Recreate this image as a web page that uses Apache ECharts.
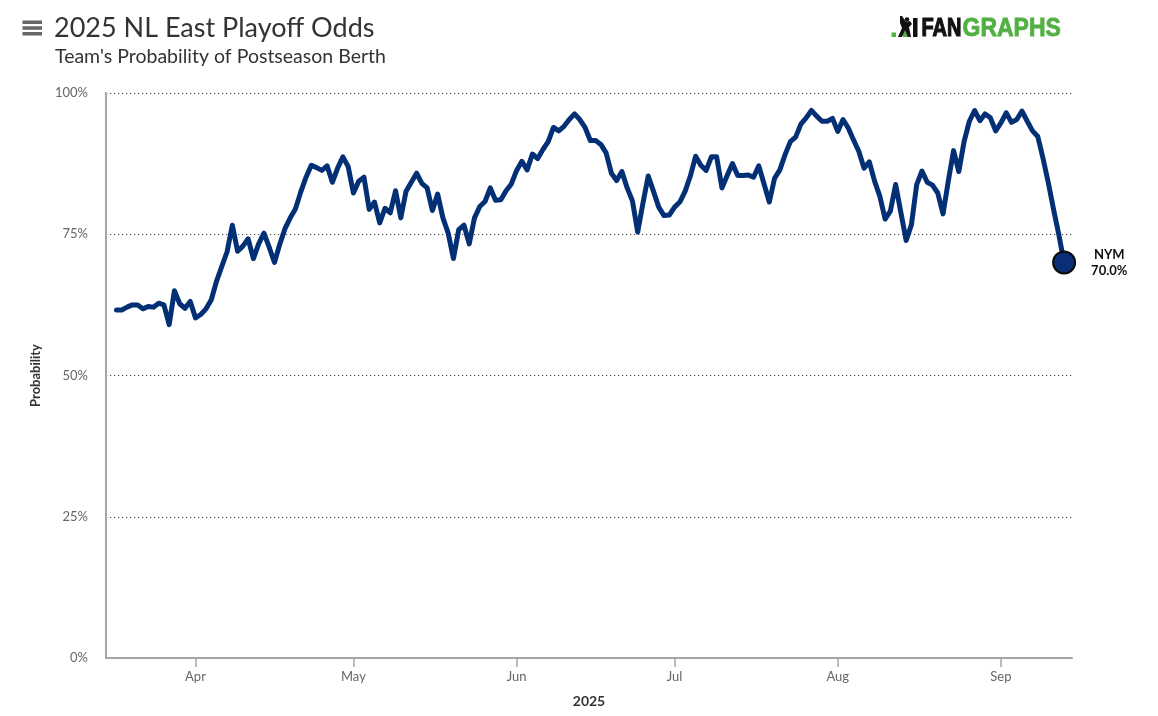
<!DOCTYPE html>
<html>
<head>
<meta charset="utf-8">
<script src="https://cdn.jsdelivr.net/npm/echarts@6/dist/echarts.min.js"></script>
<style>
  html, body { margin: 0; padding: 0; background: #fff; }
  #chart { width: 1158px; height: 716px; }
</style>
</head>
<body>
<div id="chart"></div>
<script>
// ---- Data ----
const teamName = 'NYM';
const startDate = [2025, 2, 17]; // Mar 17, 2025 (one value per day)
// Playoff probability (%) per day, Mar 17 .. Sep 13 (null = no visible point)
const odds = [
  61.6, 61.6, 62.1, 62.5, 62.5, 61.8, 62.2, 62.1, 62.8, 62.5,
  59.0, 65.0, 62.7, 61.9, 63.1, 60.2, 60.8, 61.8, 63.4, 66.7,
  69.3, 71.9, 76.6, 72.0, 72.9, 74.2, 70.7, 73.3, 75.2, 72.7,
  70.0, 73.2, 76.0, 77.9, 79.5, 82.5, 85.1, 87.2, 86.8, 86.3,
  87.1, 84.2, 86.7, 88.7, 87.0, 82.3, 84.4, 85.1, 79.4, 80.7,
  77.0, 79.6, 78.8, 82.7, 77.9, 82.6, null, 85.8, 84.0, 83.2,
  79.2, 82.1, 77.9, 75.2, 70.7, 75.8, 76.6, 73.3, 77.9, 79.9,
  80.8, 83.2, 81.0, 81.1, 82.7, 83.9, 86.3, 87.9, 86.4, 89.2,
  88.4, 90.0, 91.4, 93.9, 93.3, 94.1, 95.3, 96.3, 95.3, 93.9,
  91.6, 91.6, 90.9, 89.4, 85.8, 84.5, 86.1, 83.2, 80.9, 75.4,
  80.5, 85.3, 82.6, 79.8, 78.3, 78.4, 79.8, 80.7, 82.6, 85.3,
  88.8, 87.2, 86.3, 88.7, 88.7, 83.2, 85.4, 87.5, 85.4, 85.4,
  85.5, 85.1, 87.1, 83.9, 80.7, 84.9, 86.4, 89.1, 91.4, 92.2,
  94.5, 95.6, 96.9, 95.9, 95.0, 95.0, 95.5, 93.2, 95.3, 93.8,
  91.7, 89.7, 86.7, 87.8, 84.4, 81.7, 77.7, 79.1, 83.8, 78.8,
  73.9, 76.7, 83.8, 86.2, 84.2, 83.7, 82.3, 78.6, 84.4, 89.8,
  86.1, 91.4, 95.0, 96.9, 95.1, 96.3, 95.6, 93.3, 94.7, 96.5,
  94.8, 95.3, 96.8, 95.0, 93.3, 92.3, 88.4, 84.1, 79.4, 74.9,
  70.0
];
const monthTickDates = [[2025,3,1],[2025,4,1],[2025,5,1],[2025,6,1],[2025,7,1],[2025,8,1]];
const monthTickLabels = ['Apr', 'May', 'Jun', 'Jul', 'Aug', 'Sep'];
const yTicks = [0, 25, 50, 75, 100];

// ---- Build ----
const t = (y, m, d, h) => new Date(y, m, d, h || 0).getTime();
const seriesData = odds.map((v, i) => [t(startDate[0], startDate[1], startDate[2] + i), v]);
const last = seriesData[seriesData.length - 1];
const monthTicks = monthTickDates.map(d => t(d[0], d[1], d[2]));
const labelFor = v => { const i = monthTicks.indexOf(v); return i >= 0 ? monthTickLabels[i] : ''; };

const FONT = 'Lato, "Open Sans", sans-serif';
const LOGO_FONT = '"Liberation Sans", Arial, sans-serif';
const chart = echarts.init(document.getElementById('chart'), null, { renderer: 'canvas' });

chart.setOption({
  animation: false,
  backgroundColor: '#ffffff',
  textStyle: { fontFamily: FONT },
  grid: { left: 106, right: 86, top: 93, bottom: 58, outerBoundsMode: 'none' },
  graphic: [
    { type: 'rect', shape: { x: 22.5, y: 20.5, width: 19.5, height: 3.5 }, style: { fill: '#666' } },
    { type: 'rect', shape: { x: 22.5, y: 26.3, width: 19.5, height: 3.5 }, style: { fill: '#666' } },
    { type: 'rect', shape: { x: 22.5, y: 32.0, width: 19.5, height: 3.5 }, style: { fill: '#666' } },
    { type: 'text', left: 54, top: 15, style: { text: '2025 NL East Playoff Odds', fill: '#333', fontSize: 27, fontFamily: FONT } },
    { type: 'text', left: 55, top: 47, style: { text: "Team's Probability of Postseason Berth", fill: '#333', fontSize: 19.5, fontFamily: FONT } },
    // FanGraphs logo
    { type: 'rect', shape: { x: 891.5, y: 32.5, width: 4.5, height: 4.5 }, style: { fill: '#52b043' } },
    { type: 'rect', shape: { x: 903, y: 25, width: 5, height: 12 }, style: { fill: '#52b043' } },
    { type: 'polygon', shape: { points: [[900,16],[902,16],[906,22],[910,21],[912,24],[909,27],[911,37],[908,37],[905,30],[902,37],[898,37],[902,28],[900,23]] }, style: { fill: '#111' } },
    { type: 'circle', shape: { cx: 907, cy: 19.5, r: 2.3 }, style: { fill: '#111' } },
    { type: 'rect', shape: { x: 913, y: 18, width: 4.5, height: 19 }, style: { fill: '#111' } },
    { type: 'text', x: 921.5, y: 29.5, scaleX: 0.8, style: { text: 'FAN', fill: '#111', stroke: '#111', lineWidth: 1.2, fontSize: 25, fontWeight: 'bold', fontFamily: LOGO_FONT, textVerticalAlign: 'middle' } },
    { type: 'text', x: 962.5, y: 29.5, scaleX: 0.92, style: { text: 'GRAPHS', fill: '#52b043', stroke: '#52b043', lineWidth: 0.8, fontSize: 25, fontWeight: 'bold', fontFamily: LOGO_FONT, textVerticalAlign: 'middle' } }
  ],
  xAxis: {
    type: 'value',
    min: t(2025, 2, 15),
    max: t(2025, 8, 14, 12),
    name: '2025',
    nameLocation: 'middle',
    nameGap: 36,
    nameTextStyle: { fontWeight: 'bold', fontSize: 14, color: '#333', fontFamily: FONT },
    axisLine: { show: true, lineStyle: { color: '#a6a6a6', width: 2 } },
    axisTick: { show: true, customValues: monthTicks, length: 9, lineStyle: { color: '#a6a6a6', width: 1.5 } },
    axisLabel: { customValues: monthTicks, formatter: labelFor, color: '#666', fontSize: 13, margin: 12, fontFamily: FONT },
    splitLine: { show: false }
  },
  yAxis: {
    type: 'value',
    min: yTicks[0],
    max: yTicks[yTicks.length - 1],
    interval: 25,
    name: 'Probability',
    nameLocation: 'middle',
    nameGap: 64,
    nameRotate: 90,
    nameTextStyle: { fontWeight: 'bold', fontSize: 13, color: '#333', fontFamily: FONT },
    axisLine: { show: true, lineStyle: { color: '#a6a6a6', width: 2 } },
    axisTick: { show: false },
    axisLabel: { formatter: '{value}%', color: '#666', fontSize: 13, margin: 18, fontFamily: FONT },
    splitLine: { show: true, lineStyle: { color: '#444', width: 1, type: [1.2, 2.8] } }
  },
  series: [
    {
      type: 'line',
      data: seriesData,
      showSymbol: false,
      connectNulls: true,
      silent: true,
      z: 3,
      lineStyle: { color: '#032f75', width: 5, join: 'round', cap: 'round' }
    },
    {
      type: 'scatter',
      data: [last],
      silent: true,
      z: 4,
      symbol: 'circle',
      symbolSize: 22,
      itemStyle: { color: '#0a2f77', opacity: 1, borderColor: '#0a0a0a', borderWidth: 2 },
      label: {
        show: true,
        position: 'right',
        distance: 15,
        formatter: () => '{a|' + teamName + '}\n{a|' + last[1].toFixed(1) + '%}',
        rich: { a: { fontWeight: 'bold', fontSize: 13, color: '#111', align: 'center', lineHeight: 16, fontFamily: FONT } }
      }
    }
  ]
});
</script>
</body>
</html>
